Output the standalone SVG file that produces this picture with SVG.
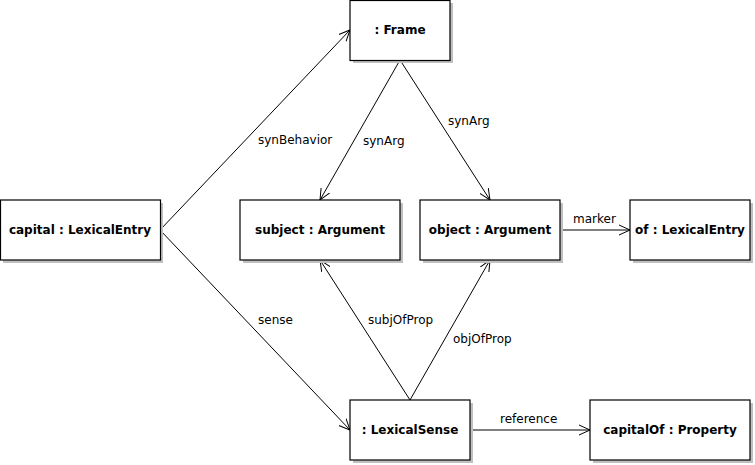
<svg xmlns="http://www.w3.org/2000/svg" width="755" height="465" viewBox="0 0 755 465">
<style>
.shadow{fill:#c0c0c0;stroke:none}
.box{fill:#fff;stroke:#000;stroke-width:1.2}
.nl{font-family:"DejaVu Sans",sans-serif;font-weight:bold;font-size:12px;text-anchor:middle;fill:#000}
.el{font-family:"DejaVu Sans",sans-serif;font-size:12px;fill:#000}
.edge{stroke:#000;stroke-width:1;fill:none;marker-end:url(#arr)}
</style>
<defs>
<marker id="arr" viewBox="0 0 12 12" refX="11" refY="6" markerWidth="12" markerHeight="12" markerUnits="userSpaceOnUse" orient="auto">
<path d="M0,1 L11,6 L0,11" fill="none" stroke="#000" stroke-width="1"/>
</marker>
</defs>
<rect width="755" height="465" fill="#fff"/>
<g id="edges">
<line class="edge" x1="160" y1="230" x2="350" y2="30"/>
<line class="edge" x1="160" y1="230" x2="350" y2="430"/>
<line class="edge" x1="400" y1="60" x2="320" y2="200"/>
<line class="edge" x1="400" y1="60" x2="490" y2="200"/>
<line class="edge" x1="560" y1="230" x2="630" y2="230"/>
<line class="edge" x1="410" y1="400" x2="320" y2="260"/>
<line class="edge" x1="410" y1="400" x2="490" y2="260"/>
<line class="edge" x1="470" y1="430" x2="590" y2="430"/>
<text class="el" x="258" y="144">synBehavior</text>
<text class="el" x="363" y="145">synArg</text>
<text class="el" x="448" y="125">synArg</text>
<text class="el" x="573" y="223">marker</text>
<text class="el" x="258" y="324">sense</text>
<text class="el" x="368" y="324">subjOfProp</text>
<text class="el" x="453" y="343">objOfProp</text>
<text class="el" x="500" y="423">reference</text>
</g>
<g id="frame">
<rect class="shadow" x="353" y="3" width="100" height="60"/>
<rect class="box" x="350" y="0.5" width="100" height="60"/>
<text class="nl" x="400" y="34">: Frame</text>
</g>
<g id="capital">
<rect class="shadow" x="3" y="203" width="160" height="60"/>
<rect class="box" x="0.5" y="200" width="160" height="60"/>
<text class="nl" x="80" y="234">capital : LexicalEntry</text>
</g>
<g id="subject">
<rect class="shadow" x="243" y="203" width="160" height="60"/>
<rect class="box" x="240" y="200" width="160" height="60"/>
<text class="nl" x="320" y="234">subject : Argument</text>
</g>
<g id="object">
<rect class="shadow" x="423" y="203" width="140" height="60"/>
<rect class="box" x="420" y="200" width="140" height="60"/>
<text class="nl" x="490" y="234">object : Argument</text>
</g>
<g id="of">
<rect class="shadow" x="633" y="203" width="120" height="60"/>
<rect class="box" x="630" y="200" width="120" height="60"/>
<text class="nl" x="690" y="234">of : LexicalEntry</text>
</g>
<g id="lexicalsense">
<rect class="shadow" x="353" y="403" width="120" height="60"/>
<rect class="box" x="350" y="400" width="120" height="60"/>
<text class="nl" x="410" y="434">: LexicalSense</text>
</g>
<g id="capitalof">
<rect class="shadow" x="593" y="403" width="160" height="60"/>
<rect class="box" x="590" y="400" width="160" height="60"/>
<text class="nl" x="670" y="434">capitalOf : Property</text>
</g>
</svg>
